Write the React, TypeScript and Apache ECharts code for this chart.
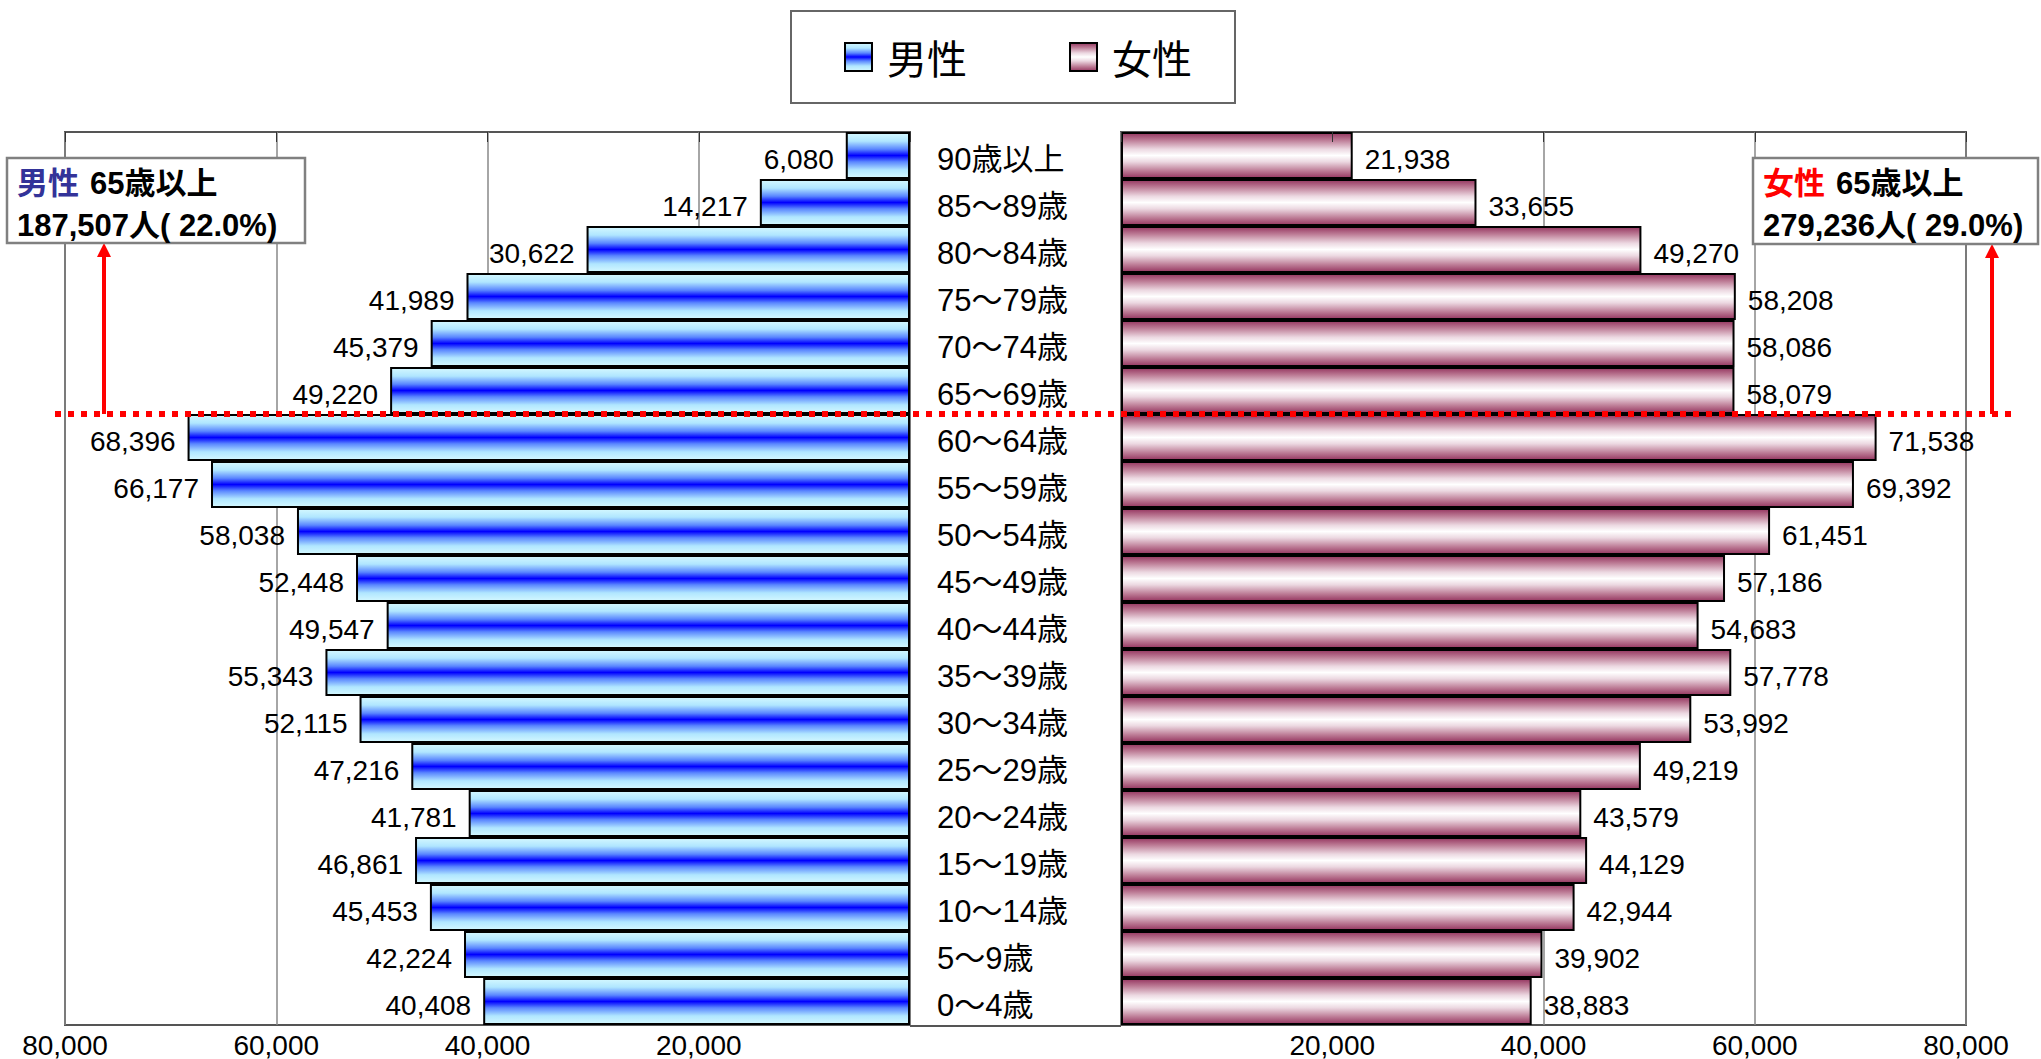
import React, { useEffect, useRef } from "react";
import * as echarts from "echarts";

const categories = [
  "0〜4歳", "5〜9歳", "10〜14歳", "15〜19歳", "20〜24歳", "25〜29歳", "30〜34歳",
  "35〜39歳", "40〜44歳", "45〜49歳", "50〜54歳", "55〜59歳", "60〜64歳",
  "65〜69歳", "70〜74歳", "75〜79歳", "80〜84歳", "85〜89歳", "90歳以上",
];
const maleValues = [
  40408, 42224, 45453, 46861, 41781, 47216, 52115, 55343, 49547, 52448, 58038,
  66177, 68396, 49220, 45379, 41989, 30622, 14217, 6080,
];
const femaleValues = [
  38883, 39902, 42944, 44129, 43579, 49219, 53992, 57778, 54683, 57186, 61451,
  69392, 71538, 58079, 58086, 58208, 49270, 33655, 21938,
];
const axisMax = 80000;
const axisInterval = 20000;
const seriesNames = ["男性", "女性"];
const maleNote = ["男性", "65歳以上", "187,507人( 22.0%)"];
const femaleNote = ["女性", "65歳以上", "279,236人( 29.0%)"];

const NUM_FONT = "'Liberation Sans', 'Noto Sans CJK JP', sans-serif";
const JP_FONT = "'Noto Sans CJK JP', sans-serif";

const fmt = (v: number) => v.toLocaleString("en-US");

const maleGrad = new echarts.graphic.LinearGradient(0, 0, 0, 1, [
  { offset: 0, color: "#d4f8ff" },
  { offset: 0.18, color: "#b0e6ff" },
  { offset: 0.36, color: "#5a86ff" },
  { offset: 0.5, color: "#0000ff" },
  { offset: 0.64, color: "#5a86ff" },
  { offset: 0.82, color: "#b0e6ff" },
  { offset: 1, color: "#d4f8ff" },
]);
const femaleGrad = new echarts.graphic.LinearGradient(0, 0, 0, 1, [
  { offset: 0, color: "#953660" },
  { offset: 0.16, color: "#bd7c96" },
  { offset: 0.36, color: "#ecd8e1" },
  { offset: 0.5, color: "#ffffff" },
  { offset: 0.64, color: "#ecd8e1" },
  { offset: 0.84, color: "#bd7c96" },
  { offset: 1, color: "#953660" },
]);

export default function App() {
  const ref = useRef<HTMLDivElement>(null);
  useEffect(() => {
    document.body.style.margin = "0";
    if (!ref.current) return;
    const chart = echarts.init(ref.current, null, { renderer: "svg" });
    const gridTop = 132;
    const gridHeight = 894;
    const valueAxisBase = (inverse: boolean, gridIndex: number) => ({
      type: "value" as const,
      gridIndex,
      inverse,
      min: 0,
      max: axisMax,
      interval: axisInterval,
    });
    const tickLabel = {
      margin: 6,
      fontSize: 28,
      fontFamily: NUM_FONT,
      color: "#000",
      formatter: (v: number) => (v === 0 ? "" : fmt(v)),
    };
    const option: any = {
      animation: false,
      backgroundColor: "#ffffff",
      legend: {
        data: seriesNames,
        left: 791,
        top: 11,
        padding: [26, 43, 26, 53],
        itemGap: 102,
        itemWidth: 27,
        itemHeight: 28,
        borderColor: "#666666",
        borderWidth: 2,
        icon: "rect",
        textStyle: { fontSize: 40, fontFamily: JP_FONT, color: "#000", padding: [0, 0, 0, 10] },
      },
      grid: [
        { left: 65, top: gridTop, width: 845, height: gridHeight, show: true, borderColor: "#555555", borderWidth: 2, backgroundColor: "transparent" },
        { left: 1121, top: gridTop, width: 845, height: gridHeight, show: true, borderColor: "#555555", borderWidth: 2, backgroundColor: "transparent" },
      ],
      xAxis: [
        {
          ...valueAxisBase(true, 0),
          axisLine: { show: false },
          axisTick: { show: false },
          splitLine: { show: true, lineStyle: { color: "#888888", width: 1.5 } },
          axisLabel: tickLabel,
        },
        {
          ...valueAxisBase(true, 0),
          z: 10,
          axisLine: { show: false },
          axisTick: { show: true, inside: true, length: 10, lineStyle: { color: "#333", width: 1 } },
          splitLine: { show: false },
          axisLabel: { show: false },
        },
        {
          ...valueAxisBase(false, 1),
          axisLine: { show: false },
          axisTick: { show: false },
          splitLine: { show: true, lineStyle: { color: "#888888", width: 1.5 } },
          axisLabel: tickLabel,
        },
        {
          ...valueAxisBase(false, 1),
          z: 10,
          axisLine: { show: false },
          axisTick: { show: true, inside: true, length: 10, lineStyle: { color: "#333", width: 1 } },
          splitLine: { show: false },
          axisLabel: { show: false },
        },
      ],
      yAxis: [
        {
          type: "category",
          gridIndex: 0,
          position: "right",
          data: categories,
          axisLine: { show: false },
          axisTick: { show: false },
          axisLabel: {
            margin: 27,
            formatter: (v: string) => `{c|${v}}`,
            rich: {
              c: {
                fontSize: 31,
                fontFamily: NUM_FONT,
                color: "#000",
                padding: [8, 0, 0, 0],
              },
            },
          },
        },
        {
          type: "category",
          gridIndex: 1,
          data: categories,
          axisLine: { show: false },
          axisTick: { show: false },
          axisLabel: { show: false },
        },
      ],
      series: [
        {
          name: seriesNames[0],
          type: "bar",
          xAxisIndex: 0,
          yAxisIndex: 0,
          data: maleValues,
          barCategoryGap: "0%",
          itemStyle: { color: maleGrad, borderColor: "#000", borderWidth: 2 },
          label: {
            show: true,
            position: "left",
            distance: 12,
            offset: [0, 4],
            fontSize: 28,
            fontFamily: NUM_FONT,
            color: "#000",
            formatter: (p: any) => fmt(p.value),
          },
        },
        {
          name: seriesNames[1],
          type: "bar",
          xAxisIndex: 2,
          yAxisIndex: 1,
          data: femaleValues,
          barCategoryGap: "0%",
          itemStyle: { color: femaleGrad, borderColor: "#000", borderWidth: 2 },
          label: {
            show: true,
            position: "right",
            distance: 12,
            offset: [0, 4],
            fontSize: 28,
            fontFamily: NUM_FONT,
            color: "#000",
            formatter: (p: any) => fmt(p.value),
          },
        },
      ],
    };
    chart.setOption(option);

    const yA = chart.convertToPixel({ yAxisIndex: 0 }, "65〜69歳") as number;
    const yB = chart.convertToPixel({ yAxisIndex: 0 }, "60〜64歳") as number;
    const yLine = (yA + yB) / 2;
    const x0 = chart.convertToPixel({ xAxisIndex: 0 }, 0) as number;
    const x1 = chart.convertToPixel({ xAxisIndex: 2 }, 0) as number;
    const bottom = gridTop + gridHeight;

    const noteFont = { fontSize: 31, fontWeight: "bold", fontFamily: "'Liberation Sans', 'Noto Sans CJK JP', sans-serif" };
    const arrow = (x: number, yTop: number) => [
      { type: "line", z: 100, shape: { x1: x, y1: yLine, x2: x, y2: yTop + 12 }, style: { stroke: "#ff0000", lineWidth: 4 } },
      { type: "polygon", z: 100, shape: { points: [[x, yTop], [x - 7, yTop + 14], [x + 7, yTop + 14]] }, style: { fill: "#ff0000" } },
    ];
    const note = (x: number, y: number, w: number, h: number, lines: string[], color: string) => [
      { type: "rect", z: 110, shape: { x, y, width: w, height: h }, style: { fill: "#fff", stroke: "#808080", lineWidth: 2.5 } },
      { type: "text", z: 111, x: x + 10, y: y + 25, style: { ...noteFont, text: lines[0], fill: color, verticalAlign: "middle", align: "left" } },
      { type: "text", z: 111, x: x + 83, y: y + 25, style: { ...noteFont, text: lines[1], fill: "#000", verticalAlign: "middle", align: "left" } },
      { type: "text", z: 111, x: x + 10, y: y + 67, style: { ...noteFont, text: lines[2], fill: "#000", verticalAlign: "middle", align: "left" } },
    ];
    chart.setOption({
      graphic: [
        { type: "line", z: 50, shape: { x1: x0, y1: bottom, x2: x1, y2: bottom }, style: { stroke: "#555555", lineWidth: 2 } },
        { type: "line", z: 100, shape: { x1: 55, y1: yLine, x2: 2012, y2: yLine }, style: { stroke: "#ff0000", lineWidth: 6, lineDash: [6, 7] } },
        ...arrow(104, 243),
        ...arrow(1992, 244),
        ...note(7, 158, 298, 85, maleNote, "#333399"),
        ...note(1753, 158, 285, 86, femaleNote, "#ff0000"),
      ],
    });
    return () => chart.dispose();
  }, []);
  return <div ref={ref} style={{ width: 2041, height: 1059 }} />;
}
